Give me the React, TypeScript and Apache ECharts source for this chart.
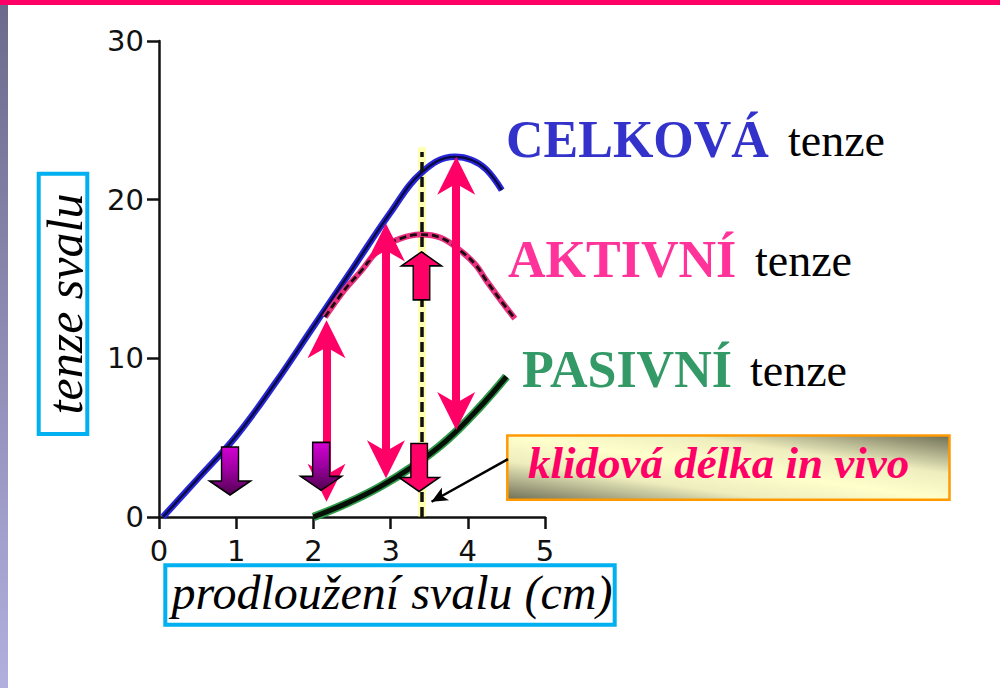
import React, { useEffect, useRef } from "react";
import * as echarts from "echarts";

// ---- data ----
const totalTension: [number, number][] = [
  [0.05, 0], [0.5, 2.4], [1.0, 5.1], [1.5, 8.4], [2.0, 12.0], [2.5, 15.6],
  [3.0, 19.2], [3.4, 21.7], [3.83, 22.7], [4.05, 22.5], [4.24, 21.9], [4.44, 20.6],
];
const activeTension: [number, number][] = [
  [2.15, 12.6], [2.4, 14.3], [2.6, 15.4], [2.86, 16.9], [3.1, 17.5], [3.38, 17.8],
  [3.65, 17.6], [3.9, 16.8], [4.1, 15.9], [4.24, 14.9], [4.45, 13.5], [4.61, 12.5],
];
const passiveTension: [number, number][] = [
  [2.0, 0], [2.43, 0.86], [2.86, 1.9], [3.29, 3.2], [3.73, 4.85], [4.16, 6.95], [4.5, 8.85],
];

const restingLength = 3.4;
const restingLineTop = 23.0;

const doubleArrowX = [2.17, 2.94, 3.85];
const doubleArrowTop = [12.4, 18.5, 22.7];
const doubleArrowBottom = [0.96, 2.44, 5.48];
const headInset = 1.3;

const purpleArrows: [number, number][] = [[0.92, 2.9], [2.1, 3.19]];
const pinkDownArrows: [number, number][] = [[3.37, 3.12]];
const pinkUpArrows: [number, number][] = [[3.4, 15.2]];

const pointerFrom: [number, number] = [4.52, 3.65];
const pointerTo: [number, number] = [3.53, 0.96];

const xMin = 0, xMax = 5, xStep = 1;
const yMin = 0, yMax = 30, yStep = 10;

const DOWN_BLOCK = "path://M12,0 H29 V34 H41 L20.5,48 L0,34 H12 Z";
const UP_BLOCK = "path://M20.5,0 L41,14 H29 V48 H12 V14 H0 Z";
const UP_HEAD = "path://M19,0 L38,38 L19,27 L0,38 Z";
const DOWN_HEAD = "path://M0,0 L19,11 L38,0 L19,38 Z";

const PINK = "#FF0066";

export default function App() {
  const ref = useRef<HTMLDivElement>(null);

  useEffect(() => {
    if (!ref.current) return;
    const chart = echarts.init(ref.current, undefined, { renderer: "svg" });

    const axisCommon = {
      axisLine: { lineStyle: { color: "#111", width: 2.5 } },
      axisTick: { length: 12, lineStyle: { color: "#111", width: 2.5 } },
      splitLine: { show: false },
    };

    const shafts = doubleArrowX.map((x, i) => [
      { coord: [x, doubleArrowTop[i] - headInset] },
      { coord: [x, doubleArrowBottom[i] + headInset] },
    ]);

    const option: any = {
      animation: false,
      backgroundColor: "#ffffff",
      grid: { left: 159, top: 41, width: 386, height: 476, containLabel: false },
      xAxis: {
        type: "value", min: xMin, max: xMax, interval: xStep,
        ...axisCommon,
        axisLabel: { fontFamily: "DejaVu Sans", fontSize: 29, color: "#111", margin: 19 },
      },
      yAxis: {
        type: "value", min: yMin, max: yMax, interval: yStep,
        ...axisCommon,
        axisLabel: { fontFamily: "DejaVu Sans", fontSize: 29, color: "#111", margin: 15 },
      },
      series: [
        {
          name: "passiveHalo", type: "line", data: passiveTension, smooth: 0.4, symbol: "none", silent: true, z: 2,
          lineStyle: { color: "#2E9A4A", width: 8.5 },
          markLine: {
            silent: true, z: 1, symbol: ["none", "none"], label: { show: false },
            lineStyle: { color: "rgba(255,255,60,0.4)", width: 8, type: "solid" },
            data: [[{ coord: [restingLength, yMin] }, { coord: [restingLength, restingLineTop + 0.3] }]],
          },
        },
        {
          name: "passiveCore", type: "line", data: passiveTension, smooth: 0.4, symbol: "none", silent: true, z: 2,
          lineStyle: { color: "#061006", width: 5 },
        },
        {
          name: "totalHalo", type: "line", data: totalTension, smooth: 0.4, symbol: "none", silent: true, z: 2,
          lineStyle: { color: "#2626D8", width: 6.5 },
        },
        {
          name: "totalCore", type: "line", data: totalTension, smooth: 0.4, symbol: "none", silent: true, z: 2,
          lineStyle: { color: "#0A0A40", width: 2.4 },
        },
        {
          name: "activeHalo", type: "line", data: activeTension, smooth: 0.4, symbol: "none", silent: true, z: 2,
          lineStyle: { color: "#E8307E", width: 6 },
        },
        {
          name: "activeDash", type: "line", data: activeTension, smooth: 0.4, symbol: "none", silent: true, z: 2,
          lineStyle: { color: "#1a0a10", width: 2.8, type: [7, 4] },
          markLine: {
            silent: true, z: 5, symbol: ["none", "none"], label: { show: false },
            data: [
              [
                { coord: [restingLength, yMin], lineStyle: { color: "#111", width: 3.5, type: [10, 5] } },
                { coord: [restingLength, restingLineTop] },
              ],
              ...shafts.map((s) => [
                { ...s[0], lineStyle: { color: PINK, width: 8, type: "solid" } },
                s[1],
              ]),
              [
                { coord: pointerFrom, symbol: "none", lineStyle: { color: "#000", width: 2.5, type: "solid" } },
                { coord: pointerTo, symbol: "arrow", symbolSize: [11, 16] },
              ],
            ],
          },
        },
        {
          name: "upHeads", type: "scatter", silent: true, z: 6,
          data: doubleArrowX.map((x, i) => [x, doubleArrowTop[i]]),
          symbol: UP_HEAD, symbolSize: [38, 38], symbolOffset: [0, "50%"],
          itemStyle: { color: PINK, opacity: 1 },
        },
        {
          name: "downHeads", type: "scatter", silent: true, z: 6,
          data: doubleArrowX.map((x, i) => [x, doubleArrowBottom[i]]),
          symbol: DOWN_HEAD, symbolSize: [38, 38], symbolOffset: [0, "-50%"],
          itemStyle: { color: PINK, opacity: 1 },
        },
        {
          name: "purpleBlocks", type: "scatter", silent: true, z: 8,
          data: purpleArrows, symbol: DOWN_BLOCK, symbolSize: [41, 48],
          itemStyle: {
            opacity: 1,
            color: new echarts.graphic.LinearGradient(0, 0, 0, 1, [
              { offset: 0, color: "#D400D4" },
              { offset: 0.5, color: "#9A009E" },
              { offset: 1, color: "#520050" },
            ]),
            borderColor: "#000", borderWidth: 1.5,
          },
        },
        {
          name: "pinkDownBlocks", type: "scatter", silent: true, z: 8,
          data: pinkDownArrows, symbol: DOWN_BLOCK, symbolSize: [40, 48],
          itemStyle: { color: PINK, opacity: 1, borderColor: "#000", borderWidth: 1.5 },
        },
        {
          name: "pinkUpBlocks", type: "scatter", silent: true, z: 8,
          data: pinkUpArrows, symbol: UP_BLOCK, symbolSize: [40, 48],
          itemStyle: { color: PINK, opacity: 1, borderColor: "#000", borderWidth: 1.5 },
        },
      ],
      graphic: [
        { type: "rect", silent: true, shape: { x: 0, y: 0, width: 1000, height: 5 }, style: { fill: "#FF0066" } },
        {
          type: "rect", silent: true, shape: { x: 0, y: 5, width: 8, height: 683 },
          style: {
            fill: new echarts.graphic.LinearGradient(0, 0, 0, 1, [
              { offset: 0, color: "#6C6A8C" },
              { offset: 1, color: "#B1AFDE" },
            ]),
          },
        },
        {
          type: "rect", silent: true, shape: { x: 38.7, y: 173.7, width: 48.6, height: 260.3 },
          style: { fill: "#fff", stroke: "#00B0F0", lineWidth: 4 },
        },
        {
          type: "text", silent: true, x: 64.5, y: 304, rotation: Math.PI / 2,
          style: {
            text: "tenze svalu", fill: "#000", fontFamily: "Liberation Serif", fontStyle: "italic",
            fontSize: 50, align: "center", verticalAlign: "middle",
          },
        },
        {
          type: "rect", silent: true, shape: { x: 165.3, y: 565.3, width: 449.4, height: 59.4 },
          style: { fill: "#fff", stroke: "#00B0F0", lineWidth: 4 },
        },
        {
          type: "text", silent: true, x: 392, y: 592,
          style: {
            text: "prodloužení svalu (cm)", fill: "#000", fontFamily: "Liberation Serif", fontStyle: "italic",
            fontSize: 48, align: "center", verticalAlign: "middle",
          },
        },
        {
          type: "text", silent: true, x: 506, y: 139.5,
          style: { text: "CELKOVÁ", fill: "#3333CC", fontFamily: "Liberation Serif", fontWeight: "bold", fontSize: 52, align: "left", verticalAlign: "middle" },
        },
        {
          type: "text", silent: true, x: 788, y: 140.5,
          style: { text: "tenze", fill: "#000", fontFamily: "Liberation Serif", fontSize: 46, align: "left", verticalAlign: "middle" },
        },
        {
          type: "text", silent: true, x: 508, y: 259.5,
          style: { text: "AKTIVNÍ", fill: "#FF3399", fontFamily: "Liberation Serif", fontWeight: "bold", fontSize: 52, align: "left", verticalAlign: "middle" },
        },
        {
          type: "text", silent: true, x: 755, y: 260.5,
          style: { text: "tenze", fill: "#000", fontFamily: "Liberation Serif", fontSize: 46, align: "left", verticalAlign: "middle" },
        },
        {
          type: "text", silent: true, x: 522, y: 369.5,
          style: { text: "PASIVNÍ", fill: "#339966", fontFamily: "Liberation Serif", fontWeight: "bold", fontSize: 52, align: "left", verticalAlign: "middle" },
        },
        {
          type: "text", silent: true, x: 750, y: 370.5,
          style: { text: "tenze", fill: "#000", fontFamily: "Liberation Serif", fontSize: 46, align: "left", verticalAlign: "middle" },
        },
        {
          type: "rect", silent: true, shape: { x: 507.3, y: 435.5, width: 442.2, height: 64.3 },
          style: {
            fill: new echarts.graphic.LinearGradient(0, 1, 1, 0, [
              { offset: 0, color: "#6E6E56" },
              { offset: 0.3, color: "#EDEDBE" },
              { offset: 0.5, color: "#FFFFCC" },
              { offset: 0.7, color: "#EDEDBE" },
              { offset: 1, color: "#6E6E56" },
            ]),
            stroke: "#FF9900", lineWidth: 2.5,
          },
        },
        {
          type: "text", silent: true, x: 528, y: 463,
          style: {
            text: "klidová délka in vivo", fill: "#FF0066", fontFamily: "Liberation Serif", fontWeight: "bold",
            fontStyle: "italic", fontSize: 45, align: "left", verticalAlign: "middle",
          },
        },
      ],
    };

    chart.setOption(option);
    return () => chart.dispose();
  }, []);

  return (
    <div
      ref={ref}
      style={{ position: "fixed", left: 0, top: 0, width: 1000, height: 688, background: "#fff" }}
    />
  );
}
